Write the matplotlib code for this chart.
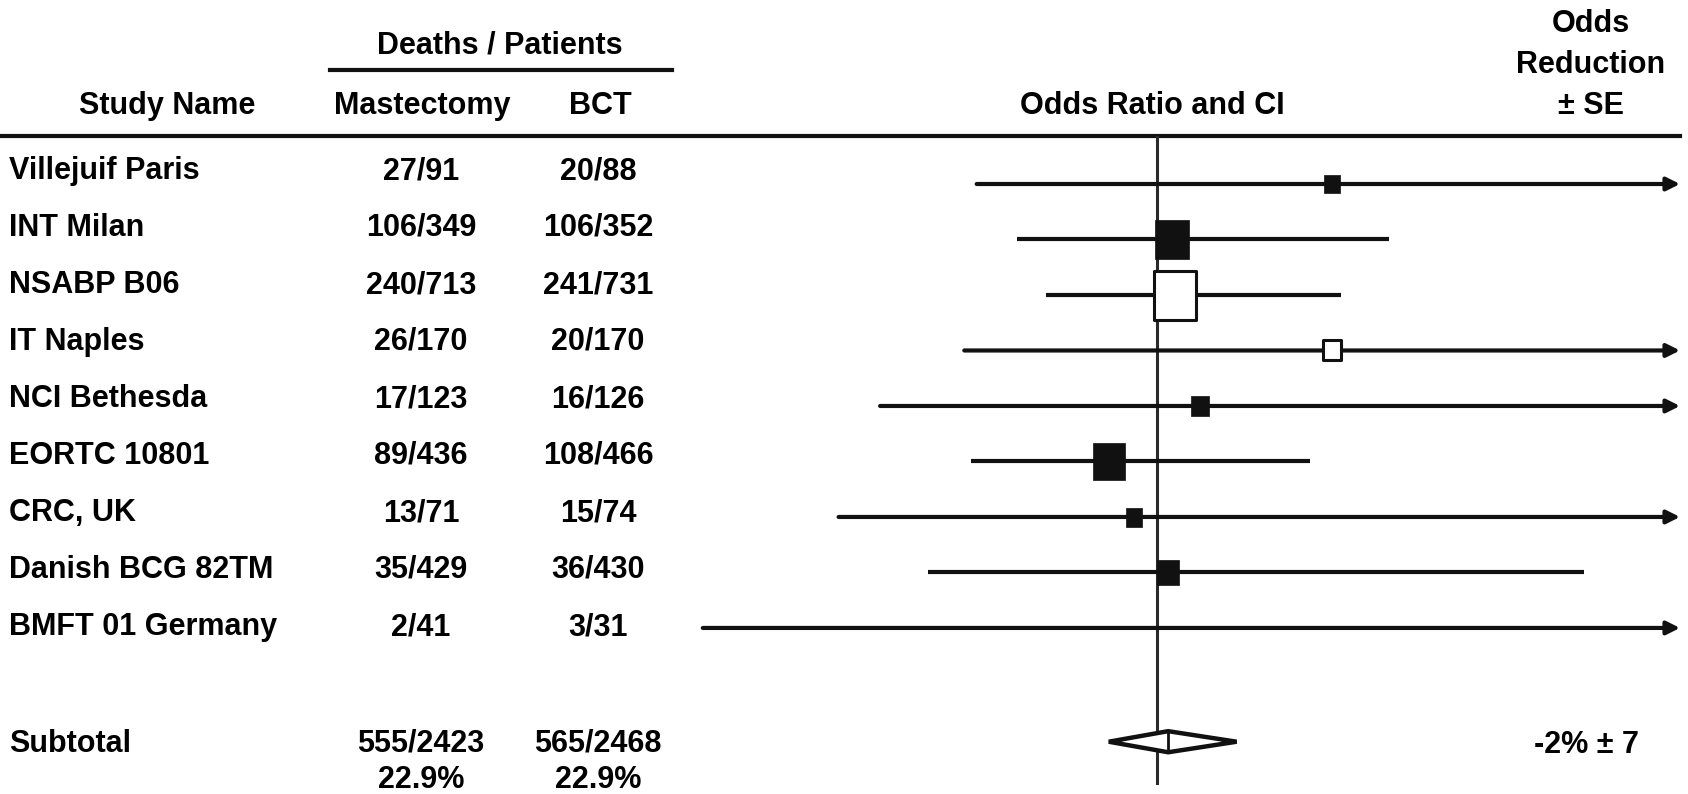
import numpy as np
import matplotlib
matplotlib.use("Agg")
import matplotlib.pyplot as plt
from matplotlib.path import Path

# table data
studies = ["Villejuif Paris", "INT Milan", "NSABP B06", "IT Naples", "NCI Bethesda",
           "EORTC 10801", "CRC, UK", "Danish BCG 82TM", "BMFT 01 Germany"]
mast_deaths = [27, 106, 240, 26, 17, 89, 13, 35, 2]
mast_patients = [91, 349, 713, 170, 123, 436, 71, 429, 41]
bct_deaths = [20, 106, 241, 20, 16, 108, 15, 36, 3]
bct_patients = [88, 352, 731, 170, 126, 466, 74, 430, 31]

# odds ratios (log axis); upper limits beyond the axis end in an arrow
odds_ratio = [1.59, 1.04, 1.05, 1.59, 1.12, 0.88, 0.94, 1.03, np.nan]
ci_low = [0.62, 0.69, 0.745, 0.60, 0.48, 0.61, 0.43, 0.545, 0.30]
ci_high = [6.0, 1.85, 1.63, 6.0, 6.0, 1.50, 6.0, 3.10, 6.0]
open_box = [False, False, True, True, False, False, False, False, False]
box_px = [18, 39, 52, 23, 20, 37, 19, 25, 0]   # box heights in pixels

subtotal_or = 1.03
subtotal_low = 0.88
subtotal_high = 1.235
subtotal_reduction = "-2% \u00b1 7"

W, H = 1688, 794
ink = "#111111"
plt.rcParams["font.family"] = ["Liberation Sans", "DejaVu Sans"]
plt.rcParams["font.weight"] = "bold"
plt.rcParams["font.size"] = 22

fig = plt.figure(figsize=(W / 100, H / 100), dpi=100)

# text part, in pixel coordinates
tab = fig.add_axes([0, 0, 1, 1])
tab.set_xlim(0, W)
tab.set_ylim(H, 0)
tab.axis("off")

x_name, x_mast, x_bct = 9, 421, 598
tab.text(500, 45, "Deaths / Patients", ha="center", va="center")
tab.plot([330, 672], [70, 70], color=ink, lw=3)
tab.text(167, 106, "Study Name", ha="center", va="center")
tab.text(422, 106, "Mastectomy", ha="center", va="center")
tab.text(600, 106, "BCT", ha="center", va="center")
tab.text(1152, 106, "Odds Ratio and CI", ha="center", va="center")
tab.text(1591, 24, "Odds", ha="center", va="center")
tab.text(1591, 65, "Reduction", ha="center", va="center")
tab.text(1591, 106, "\u00b1 SE", ha="center", va="center")
tab.plot([0, 1680], [136, 136], color=ink, lw=3)

for i, name in enumerate(studies):
    y = 171 + 57 * i
    tab.text(x_name, y, name, ha="left", va="center")
    tab.text(x_mast, y, f"{mast_deaths[i]}/{mast_patients[i]}", ha="center", va="center")
    tab.text(x_bct, y, f"{bct_deaths[i]}/{bct_patients[i]}", ha="center", va="center")

md, mp = sum(mast_deaths), sum(mast_patients)
bd, bp = sum(bct_deaths), sum(bct_patients)
tab.text(x_name, 744, "Subtotal", ha="left", va="center")
tab.text(x_mast, 744, f"{md}/{mp}", ha="center", va="center")
tab.text(x_bct, 744, f"{bd}/{bp}", ha="center", va="center")
tab.text(x_mast, 780, f"{100 * md / mp:.1f}%", ha="center", va="center")
tab.text(x_bct, 780, f"{100 * bd / bp:.1f}%", ha="center", va="center")
tab.text(1587, 745, subtotal_reduction, ha="center", va="center")

# forest part
ax = fig.add_axes([634 / W, 1 - 785 / H, (1680 - 634) / W, (785 - 136) / H])
ax.set_xscale("log")
ax.set_xlim(0.25, 4)
ax.set_ylim(10.83, -0.865)
ax.axis("off")

ax.axvline(1, color="#2a2a2a", lw=2.2, zorder=1)

xmax = ax.get_xlim()[1]
rect = Path([(-0.435, -0.5), (0.435, -0.5), (0.435, 0.5), (-0.435, 0.5), (0, 0)],
            [Path.MOVETO, Path.LINETO, Path.LINETO, Path.LINETO, Path.CLOSEPOLY])

for i in range(len(studies)):
    if ci_high[i] > xmax:
        ax.annotate("", xy=(xmax, i), xytext=(ci_low[i], i), annotation_clip=False,
                    arrowprops=dict(arrowstyle="-|>,head_length=0.6,head_width=0.3",
                                    color=ink, lw=3, shrinkA=0, shrinkB=0,
                                    mutation_scale=13))
    else:
        ax.hlines(i, ci_low[i], ci_high[i], color=ink, lw=3, zorder=2)
    if np.isnan(odds_ratio[i]) or box_px[i] == 0:
        continue
    if open_box[i]:
        ax.plot(odds_ratio[i], i, marker=rect, ms=(box_px[i] - 3) * 0.72,
                mfc="white", mec=ink, mew=2.2, zorder=3)
    else:
        ax.plot(odds_ratio[i], i, marker=rect, ms=box_px[i] * 0.72,
                mfc=ink, mec=ink, mew=0.5, zorder=3)

ys = len(studies) + 1.05
dh = 0.19
ax.fill([subtotal_low, subtotal_or, subtotal_high, subtotal_or],
        [ys, ys - dh, ys, ys + dh], facecolor="white", edgecolor=ink, lw=3.2,
        joinstyle="miter", zorder=3)
ax.plot([subtotal_or, subtotal_or], [ys - dh, ys + dh], color=ink, lw=2, zorder=4)

fig.savefig("out.png", dpi=100)
